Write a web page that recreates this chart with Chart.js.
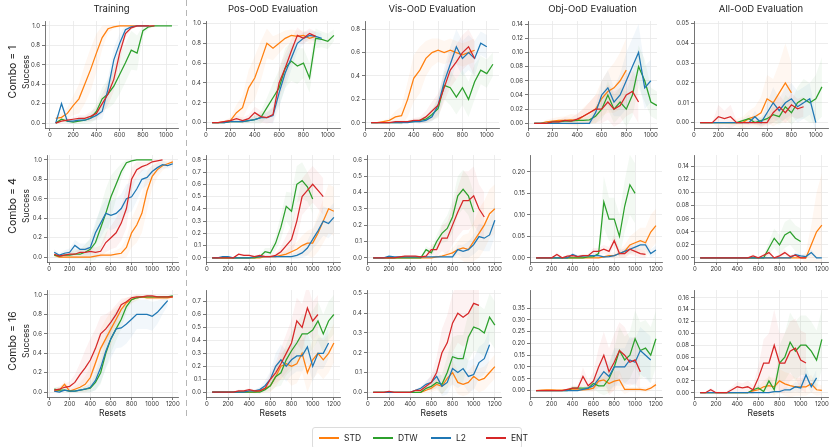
<!DOCTYPE html>
<html lang="en">
<head>
<meta charset="UTF-8" />
<title>Success vs Resets</title>
<script src="https://cdn.jsdelivr.net/npm/chart.js"></script>
<style>
  body { margin: 0; background: #fff; font-family: Inter, "DejaVu Sans", sans-serif; color: #222; }
  #page { position: relative; width: 830px; height: 447px; overflow: hidden; }
  canvas { position: absolute; }
  .lbl { position: absolute; white-space: nowrap; transform: translate(-50%, -50%); }
  .rot { transform: translate(-50%, -50%) rotate(-90deg); }
  .sep { position: absolute; left: 186px; top: 0; width: 1.2px; height: 420px;
         background: repeating-linear-gradient(to bottom, #b5b5b5 0 6px, transparent 6px 10px); }
  .legend { position: absolute; left: 312px; top: 427px; width: 210px; height: 22px;
            border: 1px solid #dcdcdc; border-radius: 3px; box-sizing: border-box; font-size: 8.5px; }
  .legend span { position: absolute; top: 10px; }
  .legend .ln { height: 1.6px; top: 9px; }
</style>
</head>
<body>
<div id="page">
  <div class="sep"></div>
</div>
<script>
// x positions of the evaluation points (resets)
const xsShort = [50,100,150,200,250,300,350,400,450,500,550,600,650,700,750,800,850,900,950,1000,1050];
const xsLong = [50,100,150,200,250,300,350,400,450,500,550,600,650,700,750,800,850,900,950,1000,1050,1100,1150,1200];
const xTicksShort = [0,200,400,600,800,1000];
const xTicksLong = [0,200,400,600,800,1000,1200];

const methods = ['STD','DTW','L2','ENT'];
const colors = ['#ff7f0e','#2ca02c','#1f77b4','#d62728'];
const colTitles = ['Training','Pos-OoD Evaluation','Vis-OoD Evaluation','Obj-OoD Evaluation','All-OoD Evaluation'];
const rowTitles = ['Combo = 1','Combo = 4','Combo = 16'];

// ---- Combo = 1 ----
const c1TrainSTD = [0.05,0.06,0.1,0.18,0.25,0.4,0.55,0.72,0.88,0.97,0.99,1.0,1.0,1.0,1.0,1.0,1.0];
const c1TrainDTW = [0.0,0.04,0.02,0.01,0.02,0.03,0.05,0.12,0.25,0.3,0.38,0.5,0.62,0.75,0.72,0.95,0.99,1.0,1.0,1.0,1.0];
const c1TrainL2  = [0.0,0.2,0.02,0.02,0.03,0.03,0.05,0.08,0.12,0.35,0.65,0.82,0.96,0.99,1.0,1.0,1.0];
const c1TrainENT = [0.0,0.02,0.03,0.04,0.05,0.05,0.07,0.1,0.2,0.3,0.45,0.72,0.92,0.98,1.0,1.0,1.0,1.0];
const c1TrainSTDsd = [0.03,0.04,0.06,0.1,0.15,0.2,0.22,0.2,0.12,0.04,0.02,0.01,0,0,0,0,0];
const c1TrainDTWsd = [0.01,0.02,0.02,0.02,0.03,0.04,0.05,0.08,0.12,0.15,0.18,0.2,0.2,0.2,0.18,0.05,0.02,0.01,0,0,0];
const c1TrainL2sd  = [0.01,0.03,0.02,0.02,0.02,0.02,0.03,0.05,0.08,0.12,0.12,0.1,0.05,0.02,0.01,0,0];
const c1TrainENTsd = [0.01,0.02,0.02,0.02,0.03,0.03,0.05,0.06,0.1,0.12,0.12,0.1,0.05,0.02,0.01,0,0,0];

const c1PosSTD = [0,0,0.01,0.02,0.1,0.15,0.35,0.45,0.62,0.8,0.75,0.8,0.85,0.88,0.87,0.88,0.85,0.87];
const c1PosDTW = [0,0,0,0.01,0.01,0.01,0.02,0.03,0.05,0.15,0.25,0.35,0.55,0.62,0.57,0.6,0.45,0.85,0.84,0.82,0.88];
const c1PosL2  = [0,0,0,0.01,0.01,0.01,0.02,0.03,0.05,0.05,0.07,0.3,0.5,0.65,0.8,0.85,0.88,0.87,0.85];
const c1PosENT = [0,0,0.01,0.02,0.04,0.02,0.04,0.1,0.06,0.05,0.08,0.4,0.55,0.72,0.88,0.85,0.9,0.87];
const c1PosSTDsd = [0,0,0.01,0.03,0.08,0.12,0.18,0.22,0.2,0.15,0.12,0.1,0.08,0.06,0.06,0.05,0.05,0.05];
const c1PosDTWsd = [0,0,0,0.01,0.01,0.02,0.03,0.04,0.06,0.1,0.15,0.18,0.2,0.2,0.18,0.15,0.15,0.1,0.08,0.08,0.06];
const c1PosL2sd  = [0,0,0,0.01,0.01,0.01,0.02,0.03,0.04,0.05,0.08,0.15,0.15,0.12,0.08,0.06,0.05,0.05,0.05];
const c1PosENTsd = [0,0,0.01,0.02,0.03,0.03,0.04,0.06,0.06,0.06,0.08,0.15,0.15,0.12,0.08,0.06,0.05,0.05];

const c1VisSTD = [0,0,0.01,0.02,0.05,0.06,0.2,0.38,0.45,0.55,0.6,0.62,0.6,0.62,0.6,0.58,0.6,0.62];
const c1VisDTW = [0,0,0,0,0,0,0.01,0.01,0.02,0.03,0.07,0.12,0.32,0.3,0.22,0.3,0.2,0.35,0.45,0.42,0.5];
const c1VisL2  = [0,0,0,0,0,0,0,0.01,0.01,0.02,0.05,0.15,0.35,0.5,0.65,0.55,0.6,0.55,0.68,0.65];
const c1VisENT = [0,0,0,0,0.01,0.01,0.01,0.02,0.02,0.05,0.1,0.15,0.3,0.45,0.52,0.6,0.65,0.55];
const c1VisSTDsd = [0,0,0.01,0.02,0.05,0.08,0.15,0.2,0.2,0.15,0.12,0.1,0.1,0.1,0.1,0.1,0.1,0.1];
const c1VisDTWsd = [0,0,0,0,0,0,0.01,0.01,0.02,0.03,0.05,0.08,0.12,0.15,0.15,0.15,0.15,0.15,0.12,0.12,0.1];
const c1VisL2sd  = [0,0,0,0,0,0,0,0.01,0.01,0.02,0.04,0.08,0.12,0.15,0.15,0.15,0.15,0.15,0.1,0.1];
const c1VisENTsd = [0,0,0,0,0.01,0.01,0.01,0.02,0.03,0.05,0.08,0.1,0.12,0.15,0.15,0.15,0.15,0.15];

const c1ObjSTD = [0,0,0.002,0.003,0.004,0.004,0.005,0.004,0.01,0.015,0.02,0.035,0.045,0.05,0.06,0.075];
const c1ObjDTW = [0,0,0,0.002,0.002,0.003,0.003,0.004,0.004,0.005,0.01,0.02,0.04,0.02,0.03,0.02,0.04,0.08,0.06,0.03,0.025];
const c1ObjL2  = [0,0,0,0,0,0,0,0,0,0,0.015,0.04,0.05,0.03,0.04,0.06,0.08,0.1,0.05,0.06];
const c1ObjENT = [0,0,0,0.002,0.002,0.004,0.003,0.006,0.01,0.015,0.02,0.02,0.03,0.02,0.025,0.04,0.045,0.03];
const c1ObjSTDsd = [0,0,0.003,0.004,0.005,0.006,0.008,0.008,0.012,0.015,0.02,0.025,0.03,0.035,0.04,0.045];
const c1ObjDTWsd = [0,0,0,0.002,0.002,0.003,0.003,0.004,0.004,0.006,0.01,0.015,0.02,0.02,0.02,0.025,0.03,0.03,0.03,0.02,0.02];
const c1ObjL2sd  = [0,0,0,0,0,0,0,0,0,0.002,0.01,0.02,0.025,0.02,0.03,0.04,0.04,0.04,0.03,0.03];
const c1ObjENTsd = [0,0,0,0.003,0.003,0.005,0.005,0.008,0.01,0.015,0.02,0.02,0.025,0.025,0.025,0.03,0.03,0.03];

const c1AllSTD = [0,0,0,0,0,0,0,0,0.002,0.003,0.005,0.012,0.01,0.015,0.02,0.015];
const c1AllDTW = [0,0,0,0,0,0,0,0.001,0.002,0,0.001,0.002,0.004,0.003,0.008,0.005,0.01,0.012,0.01,0.012,0.018];
const c1AllL2  = [0,0,0,0,0,0,0,0,0,0.003,0,0.005,0.01,0.006,0.01,0.012,0.008,0.01,0.012,0];
const c1AllENT = [0,0,0,0.003,0.002,0.003,0,0,0,0,0,0,0.005,0.008,0.005,0.009,0.007,0.008];
const c1AllSTDsd = [0,0,0,0,0,0.001,0.002,0.003,0.004,0.005,0.008,0.012,0.012,0.015,0.02,0.015];
const c1AllDTWsd = [0,0,0,0,0,0,0,0.001,0.002,0.001,0.002,0.003,0.004,0.004,0.006,0.006,0.008,0.01,0.01,0.012,0.015];
const c1AllL2sd  = [0,0,0,0,0,0,0,0,0.001,0.003,0.002,0.005,0.008,0.006,0.008,0.008,0.008,0.008,0.008,0.004];
const c1AllENTsd = [0,0,0,0.006,0.004,0.006,0.001,0.001,0.001,0.001,0.002,0.002,0.005,0.006,0.005,0.006,0.005,0.005];

// ---- Combo = 4 ----
const c4TrainSTD = [0.02,0,0,0,0,0,0,0,0.01,0.02,0.02,0.02,0.03,0.04,0.1,0.25,0.33,0.45,0.68,0.83,0.9,0.94,0.96,0.98];
const c4TrainDTW = [0.02,0.01,0.02,0.02,0.03,0.03,0.05,0.08,0.15,0.3,0.45,0.62,0.75,0.88,0.97,0.99,1.0,1.0,1.0,1.0];
const c4TrainL2  = [0.05,0.02,0.04,0.05,0.12,0.08,0.08,0.1,0.25,0.35,0.45,0.43,0.45,0.5,0.6,0.62,0.7,0.8,0.82,0.88,0.92,0.95,0.94,0.96];
const c4TrainENT = [0.03,0.01,0.02,0.03,0.03,0.05,0.05,0.06,0.05,0.06,0.15,0.2,0.25,0.35,0.5,0.8,0.9,0.93,0.95,0.98,0.99,1.0];
const c4TrainSTDsd = [0.02,0.01,0.01,0.01,0.01,0.01,0.01,0.01,0.01,0.02,0.02,0.03,0.04,0.06,0.1,0.15,0.18,0.2,0.2,0.12,0.08,0.05,0.03,0.02];
const c4TrainDTWsd = [0.02,0.02,0.03,0.04,0.05,0.05,0.08,0.12,0.18,0.22,0.25,0.22,0.15,0.08,0.03,0.01,0,0,0,0];
const c4TrainL2sd  = [0.03,0.02,0.03,0.04,0.06,0.06,0.06,0.08,0.12,0.15,0.15,0.15,0.15,0.15,0.15,0.15,0.12,0.1,0.08,0.06,0.05,0.04,0.03,0.03];
const c4TrainENTsd = [0.02,0.02,0.02,0.03,0.03,0.04,0.05,0.05,0.05,0.06,0.1,0.12,0.15,0.18,0.2,0.12,0.08,0.05,0.03,0.02,0.01,0];

const c4PosSTD = [0,0,0,0,0,0,0,0,0,0,0.01,0.01,0.01,0.02,0.03,0.05,0.07,0.1,0.12,0.12,0.2,0.3,0.4,0.38];
const c4PosDTW = [0,0,0,0,0,0,0,0,0,0.01,0.05,0.04,0.12,0.25,0.42,0.38,0.6,0.63,0.58,0.48];
const c4PosL2  = [0,0,0.01,0.01,0,0,0,0,0.01,0.01,0.01,0.01,0.01,0.01,0.01,0.01,0.02,0.04,0.08,0.15,0.22,0.3,0.28,0.33];
const c4PosENT = [0,0,0,0,0,0.03,0.02,0.02,0.01,0.02,0.01,0.01,0.02,0.05,0.1,0.15,0.3,0.5,0.55,0.6,0.55,0.5];
const c4PosSTDsd = [0,0,0,0,0,0,0,0,0,0,0.01,0.01,0.02,0.02,0.03,0.05,0.06,0.08,0.1,0.12,0.15,0.18,0.2,0.2];
const c4PosDTWsd = [0,0,0,0,0,0,0,0,0,0.01,0.03,0.04,0.06,0.1,0.12,0.15,0.15,0.15,0.12,0.12];
const c4PosL2sd  = [0,0,0,0,0,0,0,0,0,0.01,0.01,0.01,0.01,0.01,0.01,0.02,0.03,0.04,0.06,0.08,0.1,0.12,0.12,0.12];
const c4PosENTsd = [0,0,0,0,0,0.01,0.01,0.01,0.01,0.01,0.01,0.01,0.02,0.04,0.08,0.12,0.15,0.15,0.15,0.15,0.15,0.15];

const c4VisSTD = [0,0,0,0,0,0,0,0,0,0,0,0,0.005,0.01,0.02,0.03,0.05,0.06,0.05,0.1,0.15,0.2,0.27,0.3];
const c4VisDTW = [0,0,0,0,0,0,0,0,0,0,0.05,0.03,0.1,0.15,0.18,0.25,0.38,0.42,0.38,0.28];
const c4VisL2  = [0,0,0,0.01,0.005,0.005,0.005,0.005,0.005,0.005,0.005,0.005,0.005,0.005,0.005,0.005,0.05,0.04,0.05,0.08,0.13,0.12,0.14,0.23];
const c4VisENT = [0,0,0,0,0,0.005,0.01,0.01,0.01,0.005,0.01,0.05,0.05,0.12,0.12,0.2,0.28,0.35,0.35,0.38,0.3,0.25];
const c4VisSTDsd = [0,0,0,0,0,0,0,0,0,0,0,0.005,0.01,0.01,0.02,0.03,0.05,0.08,0.1,0.12,0.15,0.15,0.15,0.15];
const c4VisDTWsd = [0,0,0,0,0,0,0,0,0,0,0.02,0.02,0.04,0.06,0.08,0.1,0.12,0.12,0.12,0.12];
const c4VisL2sd  = [0,0,0,0,0,0,0,0,0,0,0,0,0,0,0.01,0.01,0.03,0.04,0.05,0.06,0.08,0.08,0.1,0.1];
const c4VisENTsd = [0,0,0,0,0,0.005,0.005,0.005,0.005,0.005,0.01,0.03,0.04,0.08,0.1,0.12,0.15,0.18,0.18,0.18,0.15,0.15];

const c4ObjSTD = [0,0,0,0,0,0,0,0,0,0,0,0,0,0.002,0.005,0.005,0.01,0.015,0.03,0.035,0.04,0.035,0.06,0.075];
const c4ObjDTW = [0,0,0,0,0,0,0,0,0,0,0.002,0.003,0.01,0.13,0.09,0.09,0.05,0.12,0.17,0.15];
const c4ObjL2  = [0,0,0,0,0,0,0,0.008,0.003,0.004,0.005,0.005,0.005,0.002,0.003,0.005,0.01,0.015,0.02,0.025,0.03,0.03,0.01,0.018];
const c4ObjENT = [0,0,0,0,0.008,0,0.004,0.005,0.003,0.005,0.005,0.015,0.015,0.02,0.015,0.04,0.01,0.01,0.02,0.015,0.01,0.008];
const c4ObjSTDsd = [0,0,0,0,0,0,0,0,0,0,0,0,0.002,0.003,0.005,0.008,0.01,0.015,0.02,0.025,0.03,0.035,0.04,0.04];
const c4ObjDTWsd = [0,0,0,0,0,0,0,0,0,0,0.002,0.003,0.01,0.06,0.05,0.05,0.05,0.06,0.07,0.07];
const c4ObjL2sd  = [0,0,0,0,0,0,0,0.004,0.003,0.003,0.003,0.003,0.003,0.003,0.003,0.004,0.006,0.008,0.01,0.01,0.012,0.012,0.01,0.01];
const c4ObjENTsd = [0,0,0,0,0.005,0.002,0.004,0.004,0.003,0.004,0.004,0.008,0.008,0.01,0.01,0.015,0.01,0.01,0.012,0.01,0.01,0.008];

const c4AllSTD = [0,0,0,0,0,0,0,0,0,0,0,0,0,0,0,0,0,0,0,0,0,0.02,0.04,0.05];
const c4AllDTW = [0,0,0,0,0,0,0,0,0,0,0,0,0,0.015,0.03,0.02,0.035,0.04,0.03,0.025];
const c4AllL2  = [0,0,0,0,0,0,0,0,0,0,0,0,0,0,0,0,0,0,0.005,0.003,0.002,0.008,0,0];
const c4AllENT = [0,0,0,0,0,0,0,0,0,0,0.003,0,0.004,0.008,0,0.003,0.008,0.002,0.004,0,0];
const c4AllSTDsd = [0,0,0,0,0,0,0,0,0,0,0,0,0,0,0,0,0,0,0,0,0.01,0.03,0.06,0.08];
const c4AllDTWsd = [0,0,0,0,0,0,0,0,0,0,0,0,0.003,0.01,0.015,0.015,0.02,0.02,0.02,0.02];
const c4AllL2sd  = [0,0,0,0,0,0,0,0,0,0,0,0,0,0,0,0,0,0.002,0.004,0.003,0.003,0.005,0.002,0];
const c4AllENTsd = [0,0,0,0,0,0,0,0,0,0,0.003,0.001,0.003,0.005,0.002,0.003,0.005,0.002,0.003,0.002,0.001];

// ---- Combo = 16 ----
const c16TrainSTD = [0.01,0.02,0.08,0.01,0.03,0.05,0.08,0.15,0.3,0.45,0.55,0.65,0.75,0.85,0.92,0.95,0.97,0.98,0.97,0.97,0.97,0.97,0.97,0.98];
const c16TrainDTW = [0.03,0.02,0.02,0.01,0.01,0.02,0.03,0.04,0.1,0.2,0.4,0.55,0.65,0.75,0.88,0.95,0.97,0.98,0.98,0.98,0.98,0.98,0.98,0.99];
const c16TrainL2  = [0.01,0,0.02,0.01,0.01,0.02,0.03,0.05,0.12,0.25,0.42,0.55,0.65,0.66,0.7,0.75,0.8,0.8,0.8,0.78,0.82,0.88,0.94];
const c16TrainENT = [0.02,0.03,0.05,0.06,0.1,0.18,0.25,0.33,0.45,0.6,0.65,0.72,0.8,0.9,0.93,0.97,0.98,0.98,0.99,0.99,0.98,0.98,0.98,0.98];
const c16TrainSTDsd = [0.01,0.02,0.04,0.02,0.03,0.05,0.08,0.12,0.18,0.2,0.2,0.18,0.12,0.08,0.05,0.04,0.03,0.02,0.02,0.02,0.02,0.02,0.02,0.02];
const c16TrainDTWsd = [0.02,0.03,0.02,0.01,0.01,0.02,0.03,0.04,0.08,0.12,0.15,0.15,0.12,0.1,0.06,0.03,0.02,0.01,0.01,0.01,0.01,0.01,0.01,0.01];
const c16TrainL2sd  = [0.01,0.01,0.01,0.01,0.01,0.02,0.03,0.05,0.1,0.15,0.18,0.2,0.2,0.2,0.2,0.18,0.15,0.15,0.15,0.15,0.12,0.08,0.05];
const c16TrainENTsd = [0.02,0.03,0.04,0.05,0.08,0.12,0.18,0.22,0.2,0.18,0.15,0.12,0.1,0.06,0.04,0.02,0.02,0.01,0.01,0.01,0.01,0.01,0.01,0.01];

const c16PosSTD = [0,0,0,0,0,0,0,0,0,0.01,0.03,0.05,0.12,0.2,0.22,0.2,0.22,0.3,0.15,0.25,0.3,0.25,0.3,0.38];
const c16PosDTW = [0,0,0,0,0,0,0,0,0,0,0.02,0.05,0.12,0.15,0.25,0.32,0.38,0.45,0.45,0.48,0.55,0.45,0.55,0.6];
const c16PosL2  = [0,0,0,0,0,0,0,0.01,0.01,0.02,0.05,0.1,0.2,0.25,0.2,0.25,0.28,0.28,0.35,0.2,0.3,0.3,0.38];
const c16PosENT = [0,0,0,0,0,0.01,0.01,0.02,0.01,0.01,0.03,0.1,0.15,0.22,0.3,0.38,0.55,0.5,0.65,0.55,0.6];
const c16PosSTDsd = [0,0,0,0,0,0,0,0,0.01,0.02,0.03,0.05,0.08,0.1,0.12,0.15,0.15,0.15,0.15,0.15,0.15,0.15,0.15,0.15];
const c16PosDTWsd = [0,0,0,0,0,0,0,0,0,0.01,0.02,0.04,0.08,0.1,0.12,0.15,0.15,0.15,0.15,0.15,0.15,0.15,0.15,0.15];
const c16PosL2sd  = [0,0,0,0,0,0,0,0.01,0.01,0.02,0.04,0.06,0.1,0.12,0.12,0.12,0.12,0.12,0.12,0.12,0.12,0.12,0.12];
const c16PosENTsd = [0,0,0,0,0,0.01,0.01,0.01,0.01,0.01,0.02,0.05,0.08,0.12,0.15,0.18,0.18,0.18,0.18,0.15,0.15];

const c16VisSTD = [0,0,0,0,0,0,0,0,0,0,0.01,0.02,0.04,0.03,0.07,0.1,0.05,0.04,0.05,0.08,0.06,0.07,0.1,0.13];
const c16VisDTW = [0,0,0,0,0,0,0,0,0,0,0.02,0.03,0.05,0.04,0.1,0.18,0.17,0.17,0.28,0.33,0.32,0.3,0.38,0.34];
const c16VisL2  = [0,0,0,0,0,0,0,0,0.01,0.02,0.04,0.05,0.08,0.03,0.05,0.12,0.1,0.12,0.08,0.09,0.15,0.17,0.24];
const c16VisENT = [0,0,0,0.005,0,0,0,0,0.01,0.01,0.03,0.05,0.1,0.2,0.25,0.35,0.4,0.38,0.4,0.45,0.44];
const c16VisSTDsd = [0,0,0,0,0,0,0,0,0,0.005,0.01,0.02,0.03,0.04,0.05,0.06,0.06,0.06,0.06,0.06,0.06,0.06,0.06,0.06];
const c16VisDTWsd = [0,0,0,0,0,0,0,0,0,0.005,0.01,0.02,0.03,0.05,0.08,0.1,0.12,0.12,0.12,0.12,0.12,0.12,0.12,0.12];
const c16VisL2sd  = [0,0,0,0,0,0,0,0,0.005,0.01,0.02,0.03,0.04,0.05,0.06,0.08,0.08,0.08,0.08,0.08,0.08,0.08,0.08];
const c16VisENTsd = [0,0,0,0.005,0.002,0.002,0.002,0.003,0.005,0.01,0.02,0.04,0.08,0.12,0.14,0.15,0.15,0.15,0.15,0.12,0.12];

const c16ObjSTD = [0,0.002,0.003,0.003,0.002,0.002,0.003,0.003,0.003,0.003,0.005,0.01,0.04,0.045,0.03,0.04,0.045,0.005,0.005,0.005,0.005,0.002,0.01,0.025];
const c16ObjDTW = [0,0,0,0,0,0,0,0.01,0.01,0.01,0.01,0.03,0.02,0.02,0.05,0.1,0.17,0.13,0.15,0.22,0.17,0.18,0.15,0.22];
const c16ObjL2  = [0,0,0,0,0,0,0,0,0,0.005,0.01,0.02,0.05,0.08,0.06,0.1,0.1,0.1,0.13,0.12,0.17,0.15,0.13];
const c16ObjENT = [0,0,0,0,0,0,0.005,0.01,0.01,0.06,0.02,0.04,0.1,0.15,0.08,0.12,0.17,0.15,0.12,0.13,0.08];
const c16ObjSTDsd = [0,0.002,0.003,0.003,0.003,0.003,0.004,0.005,0.005,0.006,0.01,0.015,0.03,0.04,0.04,0.04,0.04,0.02,0.01,0.01,0.01,0.01,0.01,0.015];
const c16ObjDTWsd = [0,0,0,0,0,0,0,0.01,0.01,0.01,0.01,0.02,0.03,0.04,0.06,0.08,0.1,0.1,0.1,0.12,0.12,0.12,0.12,0.12];
const c16ObjL2sd  = [0,0,0,0,0,0,0,0,0,0.005,0.01,0.02,0.04,0.06,0.06,0.08,0.08,0.08,0.1,0.1,0.1,0.1,0.1];
const c16ObjENTsd = [0,0,0,0,0,0,0.005,0.01,0.01,0.04,0.02,0.04,0.08,0.1,0.1,0.12,0.12,0.12,0.1,0.1,0.08];

const c16AllSTD = [0,0,0,0,0,0,0,0,0,0,0.003,0.005,0.01,0.012,0.01,0.02,0.015,0.012,0.01,0.01,0.01,0.015,0.005,0.004];
const c16AllDTW = [0,0,0,0,0,0,0,0,0,0,0.005,0.008,0.002,0.02,0.005,0.05,0.06,0.085,0.07,0.08,0.08,0.07,0.055,0.09];
const c16AllL2  = [0,0,0,0,0,0,0,0,0,0,0,0,0,0,0.002,0.002,0.005,0.005,0.01,0.008,0.03,0.01,0.025];
const c16AllENT = [0,0,0.005,0,0,0,0.005,0.01,0.008,0.01,0.005,0.025,0.05,0.05,0.08,0.05,0.05,0.07,0.075,0.055,0.05];
const c16AllSTDsd = [0,0,0,0,0,0,0,0,0,0.002,0.004,0.006,0.01,0.015,0.015,0.02,0.02,0.02,0.015,0.015,0.015,0.015,0.01,0.008];
const c16AllDTWsd = [0,0,0,0,0,0,0,0,0,0,0.003,0.005,0.005,0.01,0.01,0.03,0.04,0.05,0.05,0.05,0.05,0.05,0.05,0.05];
const c16AllL2sd  = [0,0,0,0,0,0,0,0,0,0,0,0,0,0.001,0.002,0.002,0.004,0.005,0.008,0.008,0.015,0.01,0.015];
const c16AllENTsd = [0,0,0.004,0.002,0.002,0.002,0.005,0.008,0.008,0.01,0.008,0.02,0.04,0.05,0.06,0.05,0.05,0.05,0.05,0.05,0.05];

// y tick labels per panel
const yTicksUnit = [0,0.2,0.4,0.6,0.8,1.0];
const yTicks08 = [0,0.2,0.4,0.6,0.8];
const yTicks014 = [0,0.02,0.04,0.06,0.08,0.1,0.12,0.14];
const yTicks005 = [0,0.01,0.02,0.03,0.04,0.05];
const yTicks08b = [0,0.1,0.2,0.3,0.4,0.5,0.6,0.7,0.8];
const yTicks06 = [0,0.1,0.2,0.3,0.4,0.5,0.6];
const yTicks020 = [0,0.05,0.1,0.15,0.2];
const yTicks07 = [0,0.1,0.2,0.3,0.4,0.5,0.6,0.7];
const yTicks05 = [0,0.1,0.2,0.3,0.4,0.5];
const yTicks035 = [0,0.05,0.1,0.15,0.2,0.25,0.3,0.35];
const yTicks016 = [0,0.02,0.04,0.06,0.08,0.1,0.12,0.14,0.16];

// panel layout: plot-area boxes in page pixels
const rowBox = [[21,128],[155,262],[290,397]];
const colBox = [
  [[45,178],[206,340],[365,499],[528,657],[694,828]],
  [[47,178],[206,340],[367,501],[530,662],[694,828]],
  [[47,178],[206,340],[367,501],[530,662],[694,828]]
];

const panels = [
  [
    { m:[c1TrainSTD,c1TrainDTW,c1TrainL2,c1TrainENT], s:[c1TrainSTDsd,c1TrainDTWsd,c1TrainL2sd,c1TrainENTsd], yt:yTicksUnit, dec:1, y:[-0.05,1.05], x:[-42,1102] },
    { m:[c1PosSTD,c1PosDTW,c1PosL2,c1PosENT], s:[c1PosSTDsd,c1PosDTWsd,c1PosL2sd,c1PosENTsd], yt:yTicksUnit, dec:1, y:[-0.055,1.025], x:[0,1100] },
    { m:[c1VisSTD,c1VisDTW,c1VisL2,c1VisENT], s:[c1VisSTDsd,c1VisDTWsd,c1VisL2sd,c1VisENTsd], yt:yTicks08, dec:1, y:[-0.045,0.87], x:[0,1100] },
    { m:[c1ObjSTD,c1ObjDTW,c1ObjL2,c1ObjENT], s:[c1ObjSTDsd,c1ObjDTWsd,c1ObjL2sd,c1ObjENTsd], yt:yTicks014, dec:2, y:[-0.0066,0.1443], x:[0,1050] },
    { m:[c1AllSTD,c1AllDTW,c1AllL2,c1AllENT], s:[c1AllSTDsd,c1AllDTWsd,c1AllL2sd,c1AllENTsd], yt:yTicks005, dec:2, y:[-0.0027,0.0512], x:[0,1100] }
  ],
  [
    { m:[c4TrainSTD,c4TrainDTW,c4TrainL2,c4TrainENT], s:[c4TrainSTDsd,c4TrainDTWsd,c4TrainL2sd,c4TrainENTsd], yt:yTicksUnit, dec:1, y:[-0.05,1.05], x:[-20,1250] },
    { m:[c4PosSTD,c4PosDTW,c4PosL2,c4PosENT], s:[c4PosSTDsd,c4PosDTWsd,c4PosL2sd,c4PosENTsd], yt:yTicks08b, dec:1, y:[-0.034,0.839], x:[-8,1258] },
    { m:[c4VisSTD,c4VisDTW,c4VisL2,c4VisENT], s:[c4VisSTDsd,c4VisDTWsd,c4VisL2sd,c4VisENTsd], yt:yTicks06, dec:1, y:[-0.026,0.63], x:[-8,1258] },
    { m:[c4ObjSTD,c4ObjDTW,c4ObjL2,c4ObjENT], s:[c4ObjSTDsd,c4ObjDTWsd,c4ObjL2sd,c4ObjENTsd], yt:yTicks020, dec:2, y:[-0.0097,0.2393], x:[-8,1258] },
    { m:[c4AllSTD,c4AllDTW,c4AllL2,c4AllENT], s:[c4AllSTDsd,c4AllDTWsd,c4AllL2sd,c4AllENTsd], yt:yTicks014, dec:2, y:[-0.0064,0.1577], x:[-8,1258] }
  ],
  [
    { m:[c16TrainSTD,c16TrainDTW,c16TrainL2,c16TrainENT], s:[c16TrainSTDsd,c16TrainDTWsd,c16TrainL2sd,c16TrainENTsd], yt:yTicksUnit, dec:1, y:[-0.05,1.05], x:[-20,1250] },
    { m:[c16PosSTD,c16PosDTW,c16PosL2,c16PosENT], s:[c16PosSTDsd,c16PosDTWsd,c16PosL2sd,c16PosENTsd], yt:yTicks07, dec:1, y:[-0.037,0.789], x:[-8,1258] },
    { m:[c16VisSTD,c16VisDTW,c16VisL2,c16VisENT], s:[c16VisSTDsd,c16VisDTWsd,c16VisL2sd,c16VisENTsd], yt:yTicks05, dec:1, y:[-0.024,0.5176], x:[-8,1258] },
    { m:[c16ObjSTD,c16ObjDTW,c16ObjL2,c16ObjENT], s:[c16ObjSTDsd,c16ObjDTWsd,c16ObjL2sd,c16ObjENTsd], yt:yTicks035, dec:2, y:[-0.0275,0.427], x:[-8,1258] },
    { m:[c16AllSTD,c16AllDTW,c16AllL2,c16AllENT], s:[c16AllSTDsd,c16AllDTWsd,c16AllL2sd,c16AllENTsd], yt:yTicks016, dec:2, y:[-0.0072,0.173], x:[-8,1258] }
  ]
];

Chart.defaults.font.family = 'Inter, "DejaVu Sans", sans-serif';
Chart.defaults.color = '#222';

const page = document.getElementById('page');
const AXW = 34, PADT = 8, PADR = 12, AXH = 16;

function rgba(hex, a) {
  const n = parseInt(hex.slice(1), 16);
  return `rgba(${n >> 16},${(n >> 8) & 255},${n & 255},${a})`;
}

function addLabel(text, x, y, size, rotate) {
  const d = document.createElement('div');
  d.className = 'lbl' + (rotate ? ' rot' : '');
  d.style.left = x + 'px';
  d.style.top = y + 'px';
  d.style.fontSize = size + 'px';
  d.textContent = text;
  page.appendChild(d);
}

panels.forEach((row, r) => {
  const [T, B] = rowBox[r];
  const xs = r === 0 ? xsShort : xsLong;
  const xTicks = r === 0 ? xTicksShort : xTicksLong;
  row.forEach((p, c) => {
    const [L, R] = colBox[r][c];
    const cv = document.createElement('canvas');
    const w = (R - L) + AXW + PADR, h = (B - T) + PADT + AXH;
    cv.width = w; cv.height = h;
    cv.style.left = (L - AXW) + 'px';
    cv.style.top = (T - PADT) + 'px';
    cv.style.width = w + 'px';
    cv.style.height = h + 'px';
    page.appendChild(cv);

    const datasets = [];
    // shaded bands (mean +/- spread)
    p.m.forEach((mean, k) => {
      const sd = p.s[k];
      datasets.push({
        data: mean.map((v, i) => ({ x: xs[i], y: v - sd[i] })),
        borderWidth: 0, pointRadius: 0, fill: false, order: 20
      });
      datasets.push({
        data: mean.map((v, i) => ({ x: xs[i], y: v + sd[i] })),
        borderWidth: 0, pointRadius: 0, fill: '-1',
        backgroundColor: rgba(colors[k], 0.06), order: 20
      });
    });
    // mean lines, ENT drawn on top
    p.m.forEach((mean, k) => {
      datasets.push({
        label: methods[k],
        data: mean.map((v, i) => ({ x: xs[i], y: v })),
        borderColor: colors[k], borderWidth: 1.25, pointRadius: 0,
        fill: false, tension: 0, order: 3 - k
      });
    });

    new Chart(cv, {
      type: 'line',
      data: { datasets },
      options: {
        responsive: false,
        animation: false,
        events: [],
        layout: { padding: { left: 0, top: PADT, right: PADR, bottom: 0 } },
        plugins: { legend: { display: false }, tooltip: { enabled: false } },
        scales: {
          x: {
            type: 'linear', min: p.x[0], max: p.x[1],
            afterBuildTicks: s => { s.ticks = xTicks.map(v => ({ value: v })); },
            afterFit: s => { s.height = AXH; s.paddingLeft = s.paddingRight = s.paddingTop = s.paddingBottom = 0; },
            ticks: { font: { size: 6 }, color: '#333', padding: 1, maxRotation: 0, autoSkip: false,
                     callback: v => String(v) },
            grid: { color: '#e8e8e8', lineWidth: 0.8, tickLength: 3, tickColor: '#555' },
            border: { color: '#555', width: 0.8 }
          },
          y: {
            min: p.y[0], max: p.y[1],
            afterBuildTicks: s => { s.ticks = p.yt.map(v => ({ value: v })); },
            afterFit: s => { s.width = AXW; s.paddingLeft = s.paddingRight = s.paddingTop = s.paddingBottom = 0; },
            ticks: { font: { size: 6 }, color: '#333', padding: 2, autoSkip: false,
                     callback: v => Number(v).toFixed(p.dec) },
            grid: { color: '#e8e8e8', lineWidth: 0.8, tickLength: 3, tickColor: '#555' },
            border: { color: '#555', width: 0.8 }
          }
        }
      }
    });

    if (r === 0) addLabel(colTitles[c], (L + R) / 2, 8, 9.5, false);
    if (r === 2) addLabel('Resets', (L + R) / 2, 413, 8.5, false);
    if (c === 0) {
      const cy = (T + B) / 2 - 3;
      addLabel(rowTitles[r], 12, cy, 10.5, true);
      addLabel('Success', 26, cy, 8.5, true);
    }
  });
});

// legend
const legend = document.createElement('div');
legend.className = 'legend';
const legendPos = [[6, 31], [60, 85], [118, 143], [173, 198]];
methods.forEach((m, k) => {
  const ln = document.createElement('span');
  ln.className = 'ln';
  ln.style.left = legendPos[k][0] + 'px';
  ln.style.width = '20px';
  ln.style.background = colors[k];
  legend.appendChild(ln);
  const tx = document.createElement('span');
  tx.style.left = legendPos[k][1] + 'px';
  tx.style.transform = 'translateY(-50%)';
  tx.textContent = m;
  legend.appendChild(tx);
});
page.appendChild(legend);
</script>
</body>
</html>
